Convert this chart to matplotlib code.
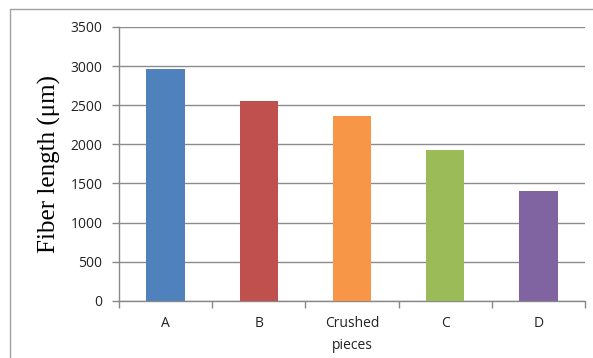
import matplotlib.pyplot as plt
import numpy as np
from matplotlib.lines import Line2D

# fiber length per sample
samples = ['A', 'B', 'Crushed\npieces', 'C', 'D']
fiber_len = [2963, 2552, 2366, 1927, 1397]
colors = ['#4F81BD', '#C0504D', '#F79646', '#9BBB59', '#8064A2']
yticks = [0, 500, 1000, 1500, 2000, 2500, 3000, 3500]

fig = plt.figure(figsize=(5.93, 3.58), dpi=100)
ax = fig.add_axes([119 / 593, 1 - 300.7 / 358, 466 / 593, 273.7 / 358])

x = np.arange(len(samples))
ax.bar(x, fiber_len, width=0.41, color=colors, zorder=3)

ax.set_xlim(-0.5, len(samples) - 0.5)
ax.set_ylim(0, 3500)
ax.set_yticks(yticks)
ax.set_yticklabels([str(v) for v in yticks], family='Open Sans', fontsize=10, color='#222222')
ax.set_xticks(x)
ax.set_xticklabels(samples, family='Open Sans', fontsize=10, linespacing=1.65, color='#222222')
ax.set_xticks(np.arange(-0.5, len(samples)), minor=True)
ax.tick_params(axis='x', which='major', length=0, pad=11)
ax.tick_params(axis='x', which='minor', length=5, color='#888888', width=1)
ax.tick_params(axis='y', length=5, color='#888888', width=1, pad=7)

ax.yaxis.grid(True, color='#8c8c8c', lw=1, zorder=0)
for s in ['top', 'right']:
    ax.spines[s].set_visible(False)
for s in ['left', 'bottom']:
    ax.spines[s].set_color('#888888')
    ax.spines[s].set_linewidth(1)

ax.set_ylabel('Fiber length (μm)', family='Liberation Serif', fontsize=18, labelpad=7)

# outer chart border (left and top edges)
fig.add_artist(Line2D([10 / 593, 10 / 593, 1], [0, 1 - 9 / 358, 1 - 9 / 358],
                      transform=fig.transFigure, color='#a0a0a0', lw=1))

fig.savefig('out.png', dpi=100)
